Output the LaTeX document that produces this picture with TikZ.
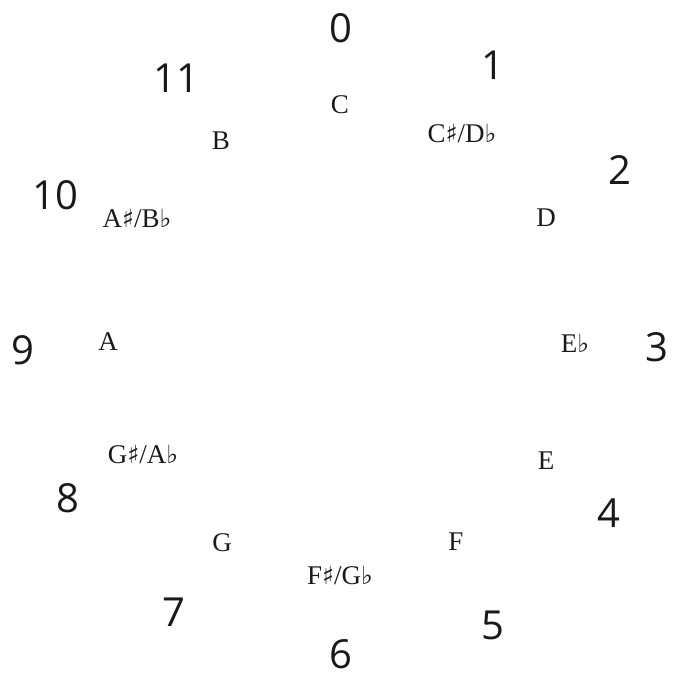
\documentclass[tikz,border=0pt]{standalone}
\usepackage{fontspec}
\setmainfont{Liberation Serif}
\newfontfamily\numfont{Open Sans}
\newfontfamily\symfont{DejaVu Sans}
\newcommand{\shp}{{\symfont\fontsize{25}{25}\selectfont ♯}}
\newcommand{\flt}{{\symfont\fontsize{25}{25}\selectfont ♭}}
\begin{document}
\begin{tikzpicture}[x=1pt,y=-1pt,
  num/.style={font=\numfont\fontsize{40}{40}\selectfont, inner sep=0pt, text=black!90},
  note/.style={font=\fontsize{27}{27}\selectfont, inner sep=0pt, text=black!90}]
\useasboundingbox (0,0) rectangle (677,677);
\node[num] (n0) at (341,28) {0};
\node[num] (n1) at (493,65) {1};
\node[num] (n2) at (620,170) {2};
\node[num] (n3) at (657,347) {3};
\node[num] (n4) at (609,513) {4};
\node[num] (n5) at (493,625) {5};
\node[num] (n6) at (341,654) {6};
\node[num] (n7) at (174,612) {7};
\node[num] (n8) at (68,498) {8};
\node[num] (n9) at (23,350) {9};
\node[num] (n10) at (55,195) {10};
\node[num] (n11) at (176,78) {11};
\node[note] (c) at (340,105) {C};
\node[note] (cs) at (462,133) {C\shp/D\flt};
\node[note] (d) at (546,218) {D};
\node[note] (eb) at (575,343) {E\flt};
\node[note] (e) at (546,461) {E};
\node[note] (f) at (456,542) {F};
\node[note] (fs) at (340,575) {F\shp/G\flt};
\node[note] (g) at (222,543) {G};
\node[note] (gs) at (143,454) {G\shp/A\flt};
\node[note] (a) at (108,342) {A};
\node[note] (as) at (137,218) {A\shp/B\flt};
\node[note] (b) at (221,141) {B};
\end{tikzpicture}
\end{document}
